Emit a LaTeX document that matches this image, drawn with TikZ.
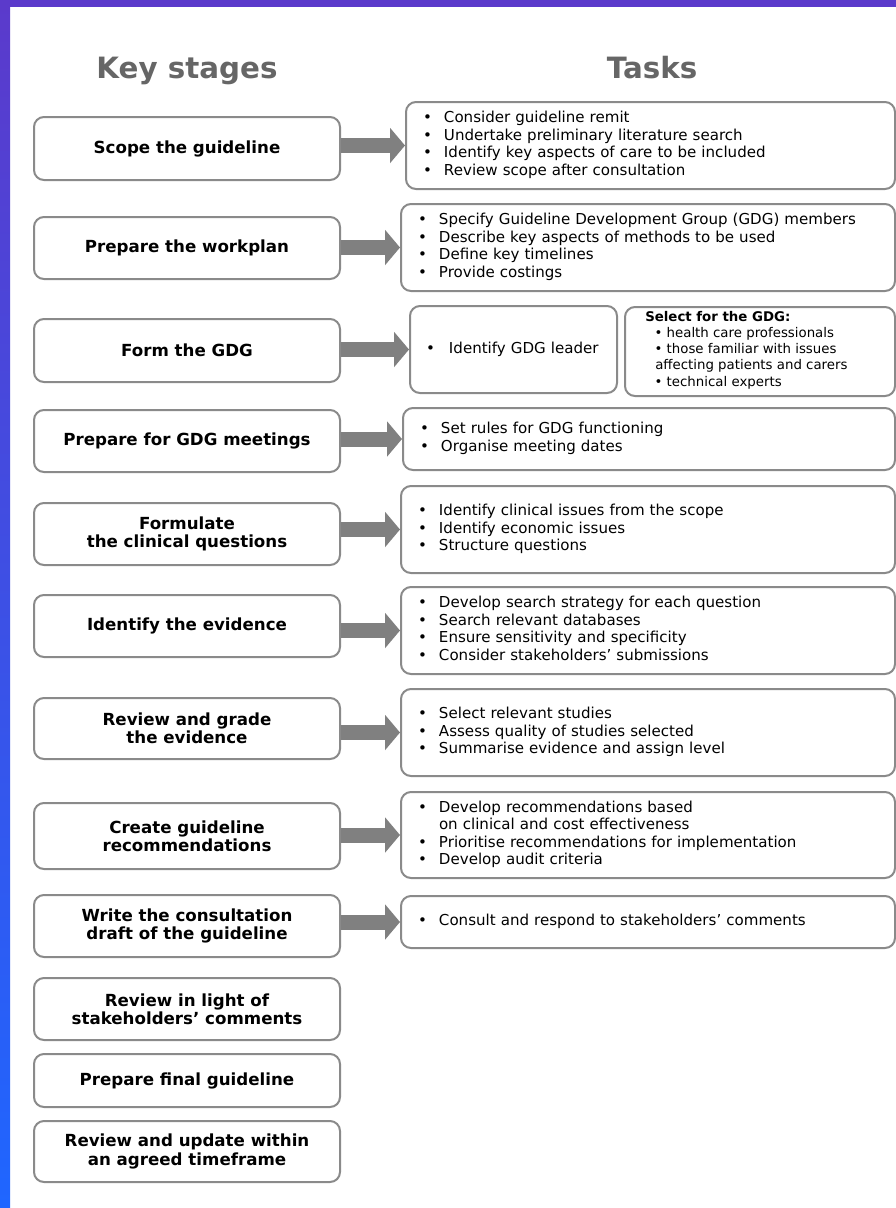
\documentclass[tikz,border=0pt]{standalone}
\usepackage{fontspec}
\setmainfont{DejaVu Sans}
\usetikzlibrary{arrows.meta}
\definecolor{bordergray}{HTML}{8A8A8A}
\definecolor{arrowgray}{HTML}{808080}
\definecolor{titlegray}{HTML}{666666}
\definecolor{topviolet}{HTML}{5B3ACB}
\definecolor{botblue}{HTML}{1F66FF}
\newcommand{\stagefont}{\fontsize{12.5}{13.7}\selectfont\bfseries}
\newcommand{\taskfont}{\fontsize{11.3}{13.2}\selectfont}
\newcommand{\selfont}{\fontsize{10}{12.2}\selectfont}
\newenvironment{blist}[1][15.75pt]{\begin{tabular}{@{}p{#1}@{}l@{}}}{\end{tabular}}
\newcommand{\itm}[1]{\textbullet & #1\\}
\newcommand{\cnt}[1]{ & #1\\}
\begin{document}
\begin{tikzpicture}[x=0.75pt,y=-0.75pt,
  stage/.style={draw=bordergray, line width=1.5pt, rounded corners=7.5pt, fill=white,
    align=center, minimum width=229.5pt, inner sep=0pt, font=\stagefont},
  task/.style={draw=bordergray, line width=1.5pt, rounded corners=7.5pt, fill=white,
    align=left, inner xsep=12.75pt, inner ysep=0pt, font=\taskfont},
  flow/.style={arrowgray, line width=11.25pt, -{Triangle[length=11.25pt,width=26pt]}},
  title/.style={font=\fontsize{22}{26}\selectfont\bfseries, text=titlegray, anchor=base}
]
\useasboundingbox (0,0) rectangle (896,1208);
\fill[white] (0,0) rectangle (896,1208);
\fill[topviolet] (0,0) rectangle (896,7);
\shade[top color=topviolet, bottom color=botblue] (0,0) rectangle (10,1208);

% titles
\node[title] (tks) at (187,78) {Key stages};
\node[title] (ttk) at (652,78) {Tasks};

% stages
\node[stage, minimum height=47.25pt] (s1) at (187,148.5) {Scope the guideline};
\node[stage, minimum height=46.5pt] (s2) at (187,248) {Prepare the workplan};
\node[stage, minimum height=47.25pt] (s3) at (187,350.5) {Form the GDG};
\node[stage, minimum height=46.5pt] (s4) at (187,441) {Prepare for GDG meetings};
\node[stage, minimum height=46.5pt] (s5) at (187,534) {Formulate\\the clinical questions};
\node[stage, minimum height=46.5pt] (s6) at (187,626) {Identify the evidence};
\node[stage, minimum height=45.75pt] (s7) at (187,728.5) {Review and grade\\the evidence};
\node[stage, minimum height=49.5pt] (s8) at (187,836) {Create guideline\\recommendations};
\node[stage, minimum height=46.5pt] (s9) at (187,926) {Write the consultation\\draft of the guideline};
\node[stage, minimum height=46.5pt] (s10) at (187,1009) {Review in light of\\stakeholders’ comments};
\node[stage, minimum height=39.75pt] (s11) at (187,1080.5) {Prepare final guideline};
\node[stage, minimum height=45.75pt] (s12) at (187,1151.5) {Review and update within\\an agreed timeframe};

% tasks
\node[task, minimum height=65.25pt, text width=341.25pt] (t1) at (650.5,145.5) {\begin{blist}
\itm{Consider guideline remit}
\itm{Undertake preliminary literature search}
\itm{Identify key aspects of care to be included}
\itm{Review scope after consultation}
\end{blist}};
\node[task, minimum height=65.25pt, text width=345pt] (t2) at (648,247.5) {\begin{blist}
\itm{Specify Guideline Development Group (GDG) members}
\itm{Describe key aspects of methods to be used}
\itm{Define key timelines}
\itm{Provide costings}
\end{blist}};
\node[task, minimum height=65.25pt, inner xsep=12pt, text width=131.25pt] (t3a) at (513.5,349.5) {\begin{blist}[17.25pt]
\itm{Identify GDG leader}
\end{blist}};
\node[task, minimum width=202.5pt, minimum height=66.75pt] (t3b) at (760,351.5) {};
\node[anchor=west, inner sep=0pt, align=left, font=\selfont] (t3btext) at (645,350) {\textbf{Select for the GDG:}\\
\hspace*{7pt}\textbullet{} health care professionals\\
\hspace*{7pt}\textbullet{} those familiar with issues\\
\hspace*{7.5pt}affecting patients and carers\\
\hspace*{7pt}\textbullet{} technical experts};
\node[task, minimum height=46.5pt, text width=343.5pt] (t4) at (649,439) {\begin{blist}
\itm{Set rules for GDG functioning}
\itm{Organise meeting dates}
\end{blist}};
\node[task, minimum height=65.25pt, text width=345pt] (t5) at (648,529.5) {\begin{blist}
\itm{Identify clinical issues from the scope}
\itm{Identify economic issues}
\itm{Structure questions}
\end{blist}};
\node[task, minimum height=65.25pt, text width=345pt] (t6) at (648,630.5) {\begin{blist}
\itm{Develop search strategy for each question}
\itm{Search relevant databases}
\itm{Ensure sensitivity and specificity}
\itm{Consider stakeholders’ submissions}
\end{blist}};
\node[task, minimum height=65.25pt, text width=345pt] (t7) at (648,732.5) {\begin{blist}
\itm{Select relevant studies}
\itm{Assess quality of studies selected}
\itm{Summarise evidence and assign level}
\end{blist}};
\node[task, minimum height=64.5pt, text width=345pt] (t8) at (648,835) {\begin{blist}
\itm{Develop recommendations based}
\cnt{on clinical and cost effectiveness}
\itm{Prioritise recommendations for implementation}
\itm{Develop audit criteria}
\end{blist}};
\node[task, minimum height=39pt, text width=345pt] (t9) at (648,922) {\begin{blist}
\itm{Consult and respond to stakeholders’ comments}
\end{blist}};

% arrows
\draw[flow] (t1.west -| s1.east) -- (t1.west);
\draw[flow] (t2.west -| s2.east) -- (t2.west);
\draw[flow] (t3a.west -| s3.east) -- (t3a.west);
\draw[flow] (t4.west -| s4.east) -- (t4.west);
\draw[flow] (t5.west -| s5.east) -- (t5.west);
\draw[flow] (t6.west -| s6.east) -- (t6.west);
\draw[flow] (t7.west -| s7.east) -- (t7.west);
\draw[flow] (t8.west -| s8.east) -- (t8.west);
\draw[flow] (t9.west -| s9.east) -- (t9.west);
\end{tikzpicture}
\end{document}
